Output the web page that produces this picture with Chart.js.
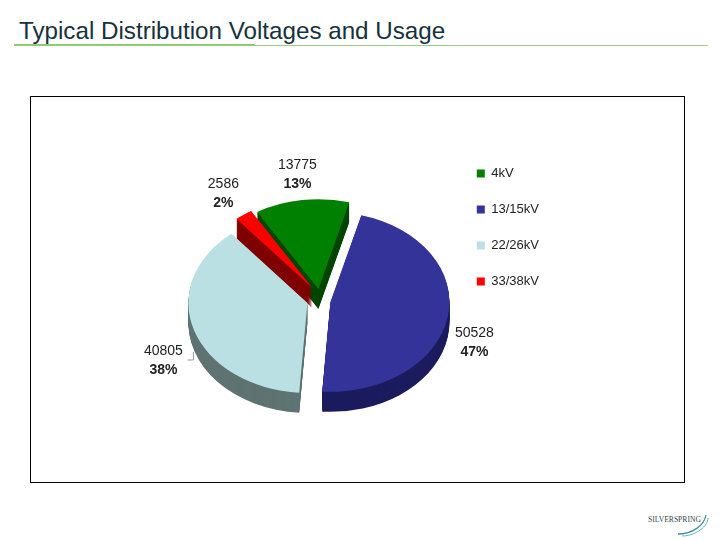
<!DOCTYPE html>
<html>
<head>
<meta charset="utf-8">
<title>Typical Distribution Voltages and Usage</title>
<script src="https://cdn.jsdelivr.net/npm/chart.js@4"></script>
<style>
  html, body { margin: 0; padding: 0; background: #fff; }
  body { position: relative; width: 720px; height: 540px; overflow: hidden; font-family: "Liberation Sans", Arial, sans-serif; }
  #title { position: absolute; left: 19px; top: 16px; font-size: 24.2px; line-height: 30px; color: #16323c; white-space: nowrap; }
  #ruleThick { position: absolute; left: 14px; top: 44px; width: 241px; height: 2px; background: #92c974; }
  #ruleThin { position: absolute; left: 254px; top: 45px; width: 454px; height: 1px; background: #9ccc7c; }
  #frame { position: absolute; left: 30px; top: 96px; box-sizing: border-box; width: 655px; height: 387px; border: 1px solid #000; }
  #frame canvas { display: block; }
  #logoText { position: absolute; left: 648px; top: 515px; font: 7.6px "Liberation Serif", serif; color: #33464f; white-space: nowrap; }
  #logoMark { position: absolute; left: 670px; top: 510px; }
</style>
</head>
<body>
<div id="title">Typical Distribution Voltages and Usage</div>
<div id="ruleThick"></div>
<div id="ruleThin"></div>
<div id="frame"><canvas id="pieChart" width="653" height="385"></canvas></div>
<div id="logoText">SILVERSPRING</div>
<svg id="logoMark" width="46" height="28">
  <path d="M8 24 C 22 24, 34 16, 36 5" fill="none" stroke="#3f8f9c" stroke-width="1.3"/>
  <path d="M12 26 C 26 26, 38 16, 38 8" fill="none" stroke="#6fb3bd" stroke-width="1"/>
</svg>
<script>
// Values
const categories = ['4kV', '13/15kV', '22/26kV', '33/38kV'];
const usage = [13775, 50528, 40805, 2586];
const sliceColors = ['#008000', '#333399', '#bbe0e3', '#ff0000'];
const sideColors = ['#004500', '#1b1b5e', '#5f7373', '#7f0000'];

// How far each slice is pulled out of the pie, in screen px
const explodeX = [1, 13, -10, -5];
const explodeY = [-14, -1, 0, -15];
// Where each value label sits relative to the pie centre
const labelShift = [[-20, -138], [157, 30], [-154, 48], [-94, -119]];
const drawOrder = [0, 3, 2, 1];

const SQUASH = 0.755;
const DEPTH = 20;

Chart.defaults.font.family = "'Liberation Sans', Arial, sans-serif";

function pieCentre(chart) {
    const a = chart.chartArea;
    return { x: (a.left + a.right) / 2, y: (a.top + a.bottom) / 2 };
}

// Tilts the pie and stacks darker copies of each slice under it
const tiltPlugin = {
    id: 'tilt',
    afterDatasetUpdate(chart) {
        chart.getDatasetMeta(0).data.forEach((arc, i) => {
            arc.x += explodeX[i];
            arc.y += explodeY[i] / SQUASH;
        });
    },
    beforeDatasetsDraw(chart) {
        const ctx = chart.ctx;
        const arcs = chart.getDatasetMeta(0).data;
        const cy = pieCentre(chart).y;
        ctx.save();
        ctx.translate(0, cy);
        ctx.scale(1, SQUASH);
        ctx.translate(0, -cy);
        drawOrder.forEach(i => {
            const a = arcs[i].getProps(['x', 'y', 'startAngle', 'endAngle', 'outerRadius']);
            ctx.fillStyle = sideColors[i];
            for (let d = DEPTH; d > 0; d--) {
                const y = a.y + d / SQUASH;
                ctx.beginPath();
                ctx.moveTo(a.x, y);
                ctx.arc(a.x, y, a.outerRadius, a.startAngle, a.endAngle);
                ctx.closePath();
                ctx.fill();
            }
        });
    },
    afterDatasetsDraw(chart) {
        chart.ctx.restore();
    },
    afterDraw(chart) {
        const ctx = chart.ctx;
        const c = pieCentre(chart);
        const total = usage.reduce((a, b) => a + b, 0);
        ctx.save();
        ctx.textAlign = 'center';
        ctx.textBaseline = 'middle';
        ctx.fillStyle = '#222';
        usage.forEach((value, i) => {
            const x = c.x + labelShift[i][0];
            const y = c.y + labelShift[i][1];
            ctx.font = "14px 'Liberation Sans', Arial, sans-serif";
            ctx.fillText(String(value), x, y);
            ctx.font = "bold 14px 'Liberation Sans', Arial, sans-serif";
            ctx.fillText(Math.round(value / total * 100) + '%', x, y + 19);
        });
        // Leader line of the 22/26kV label
        const lx = c.x - 124;
        const ly = c.y + 57;
        ctx.strokeStyle = '#999';
        ctx.lineWidth = 1;
        ctx.beginPath();
        ctx.moveTo(lx - 6, ly);
        ctx.lineTo(lx, ly);
        ctx.lineTo(lx, ly - 8);
        ctx.stroke();
        ctx.restore();
    }
};

new Chart(document.getElementById('pieChart'), {
    type: 'pie',
    data: {
        labels: categories,
        datasets: [{
            data: usage,
            backgroundColor: sliceColors,
            borderWidth: 0,
            clip: false
        }]
    },
    options: {
        responsive: false,
        animation: false,
        rotation: -31,
        radius: 119,
        layout: { padding: { top: 47, bottom: 20, left: 150, right: 135 } },
        plugins: {
            tooltip: { enabled: false },
            legend: {
                position: 'right',
                align: 'start',
                labels: {
                    boxWidth: 8,
                    boxHeight: 8,
                    padding: 23,
                    color: '#222',
                    font: { size: 13 }
                }
            }
        }
    },
    plugins: [tiltPlugin]
});
</script>
</body>
</html>
